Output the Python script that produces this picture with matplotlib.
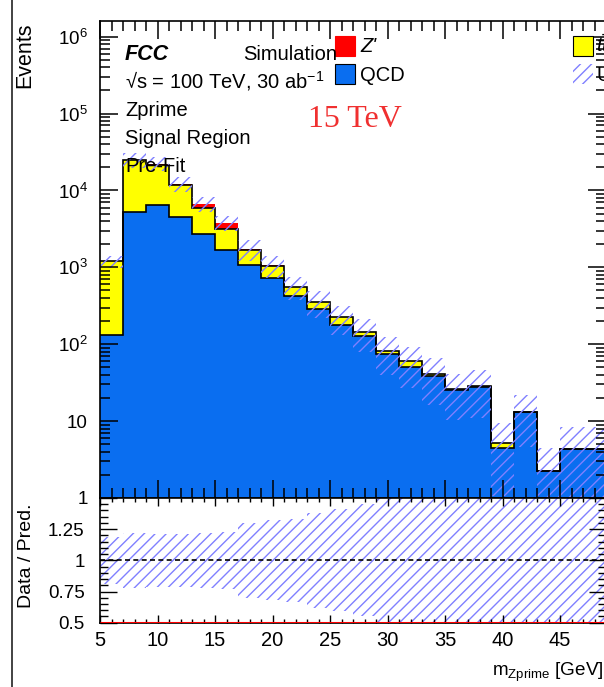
import numpy as np
import matplotlib
matplotlib.use('Agg')
import matplotlib.pyplot as plt
from matplotlib.patches import Rectangle
from matplotlib.lines import Line2D
from matplotlib.ticker import MultipleLocator, LogLocator, NullFormatter

plt.rcParams['font.family'] = ['Liberation Sans', 'DejaVu Sans']
plt.rcParams['mathtext.fontset'] = 'custom'
plt.rcParams['mathtext.rm'] = 'Liberation Sans'
plt.rcParams['mathtext.it'] = 'Liberation Sans:italic'
plt.rcParams['mathtext.bf'] = 'Liberation Sans:bold'
plt.rcParams['hatch.linewidth'] = 1.0

# m_Zprime binning [GeV], 2 GeV bins from 5 to 49
edges = np.arange(5, 50, 2)

qcd = np.array([133, 5250, 6410, 4520, 2690, 1700, 1059, 723, 421, 283, 180,
                127, 75.4, 51, 39, 25.4, 28, 4.45, 13.2, 2.25, 4.4, 4.4])
ttbar = np.array([1062, 19550, 14890, 7180, 3290, 1490, 600, 314, 131, 76, 44,
                  19, 7, 9, 2, 0.5, 0.5, 0.8, 0, 0, 0, 0])
zprime = np.array([0, 200, 1100, 500, 780, 630, 80, 20, 8, 0, 0,
                   0, 0, 0, 0, 0, 0, 0, 0, 0, 0, 0])
rel_unc = np.array([0.19, 0.22, 0.21, 0.21, 0.22, 0.23, 0.30, 0.32, 0.33, 0.38, 0.41,
                    0.45, 0.52, 0.55, 0.60, 0.60, 0.62, 0.80, 0.65, 1.00, 0.90, 0.90])
data = np.zeros(len(qcd))

ylabels = ['1', '10', '$10^{2}$', '$10^{3}$', '$10^{4}$', '$10^{5}$', '$10^{6}$']
ylevels = [1, 10, 1e2, 1e3, 1e4, 1e5, 1e6]
ratio_ticks = [0.5, 0.75, 1.0, 1.25, 1.5]
ratio_labels = ['0.5', '0.75', '1', '1.25', '']

c_qcd = '#0a6ef0'
c_tt = '#ffff00'
c_zp = '#ff0000'
c_unc = '#8080ff'

W, H = 604, 687
FS = 14.5


def fx(px):
    return px / W


def fy(py):
    return 1 - py / H


fig = plt.figure(figsize=(W / 100, H / 100), dpi=100)
ax = fig.add_axes([fx(100), fy(498), (606 - 100) / W, (498 - 21) / H])
rax = fig.add_axes([fx(100), fy(622.7), (606 - 100) / W, (622.7 - 498) / H], sharex=ax)

tt_top = qcd + ttbar
total = tt_top + zprime
floor = 1e-3

# stack, drawn top component first like THStack
ax.stairs(total, edges, baseline=tt_top, fill=True, color=c_zp, lw=0)
ax.stairs(tt_top, edges, baseline=qcd, fill=True, color=c_tt, lw=0)
ax.stairs(qcd, edges, baseline=floor, fill=True, color=c_qcd, lw=0)
ax.stairs(tt_top, edges, baseline=None, color='black', lw=1.2)
ax.stairs(qcd, edges, baseline=None, color='black', lw=1.2)

# uncertainty band
lo = np.clip(total * (1 - rel_unc), floor, None)
hi = total * (1 + rel_unc)
ax.fill_between(edges, np.append(lo, lo[-1]), np.append(hi, hi[-1]), step='post',
                facecolor='none', edgecolor=c_unc, hatch='///', lw=0)

ax.set_xlim(5, 49)
ax.set_yscale('log')
ax.set_ylim(1, 1.6e6)
ax.set_yticks(ylevels, labels=ylabels)
ax.yaxis.set_minor_locator(LogLocator(base=10, subs=np.arange(2, 10), numticks=20))
ax.yaxis.set_minor_formatter(NullFormatter())
ax.xaxis.set_major_locator(MultipleLocator(5))
ax.xaxis.set_minor_locator(MultipleLocator(1))
ax.tick_params(axis='x', labelbottom=False)
ax.tick_params(which='both', direction='in', top=True, right=True, width=1.1)
ax.tick_params(which='major', length=13)
ax.tick_params(which='minor', length=7)
ax.tick_params(axis='y', labelsize=13.5, pad=9)

# ratio panel
ratio = np.clip(data / total, 0.5, None)
rax.fill_between(edges, np.append(1 - rel_unc, 1 - rel_unc[-1]),
                 np.append(1 + rel_unc, 1 + rel_unc[-1]), step='post',
                 facecolor='none', edgecolor=c_unc, hatch='///', lw=0)
rax.axhline(1.0, color='black', lw=1.2, ls=(0, (3, 2)))
rax.stairs(ratio, edges, baseline=None, color='red', lw=2.2, zorder=5)
rax.set_ylim(0.5, 1.5)
rax.set_yticks(ratio_ticks, labels=ratio_labels)
rax.yaxis.set_minor_locator(MultipleLocator(0.05))
rax.tick_params(which='both', direction='in', top=True, right=True, width=1.0)
rax.tick_params(axis='y', which='major', length=12, labelsize=13.5, pad=11)
rax.tick_params(axis='y', which='minor', length=6)
rax.tick_params(axis='x', which='major', length=6, labelsize=14.5, pad=6)
rax.tick_params(axis='x', which='minor', length=3)

for a in (ax, rax):
    for s in a.spines.values():
        s.set_linewidth(1.2)

# labels
fig.text(fx(25), fy(22), 'Events', rotation=90, ha='center', va='top', fontsize=15.5)
fig.text(fx(27), fy(556), 'Data / Pred.', rotation=90, ha='center', va='center', fontsize=14)
fig.text(fx(604), fy(676), r'm$_{\mathregular{Zprime}}$ [GeV]', ha='right', va='baseline',
         fontsize=13.6)

fig.text(fx(125), fy(60), 'FCC', fontsize=15.5, fontweight='bold', fontstyle='italic',
         va='baseline')
fig.text(fx(243), fy(60), 'Simulation', fontsize=FS, va='baseline')
fig.text(fx(125), fy(88), '\u221as = 100 TeV, 30 ab$^{-1}$', fontsize=FS, va='baseline')
fig.text(fx(125), fy(116), 'Zprime', fontsize=FS, va='baseline')
fig.text(fx(125), fy(144), 'Signal Region', fontsize=FS, va='baseline')
fig.text(fx(125), fy(172), 'Pre-Fit', fontsize=FS, va='baseline')
fig.text(fx(308), fy(127), '15 TeV', fontsize=23, color='#f03030', va='baseline',
         family='Liberation Serif')

# legend keys
fig.add_artist(Rectangle((fx(335), fy(56)), 20 / W, 20 / H, transform=fig.transFigure,
                         facecolor=c_zp, edgecolor=c_zp, lw=0.8))
fig.add_artist(Rectangle((fx(335), fy(84)), 20 / W, 20 / H, transform=fig.transFigure,
                         facecolor=c_qcd, edgecolor='black', lw=0.8))
fig.add_artist(Rectangle((fx(573), fy(56)), 20 / W, 20 / H, transform=fig.transFigure,
                         facecolor=c_tt, edgecolor='black', lw=0.8))
fig.add_artist(Rectangle((fx(573), fy(84)), 20 / W, 20 / H, transform=fig.transFigure,
                         facecolor='none', edgecolor=c_unc, hatch='///', lw=0))
fig.text(fx(360), fy(52), "Z'", fontsize=FS, fontstyle='italic', va='baseline')
fig.text(fx(360), fy(81), 'QCD', fontsize=FS, va='baseline')
fig.text(fx(596), fy(52), r'$t\bar{t}$', fontsize=FS, va='baseline')
fig.text(fx(596), fy(81), 'Uncertainty', fontsize=FS, va='baseline')

fig.add_artist(Line2D([fx(12), fx(12)], [0, 1], transform=fig.transFigure,
                      color='#222222', lw=1.2))

fig.savefig('out.png', dpi=100)
